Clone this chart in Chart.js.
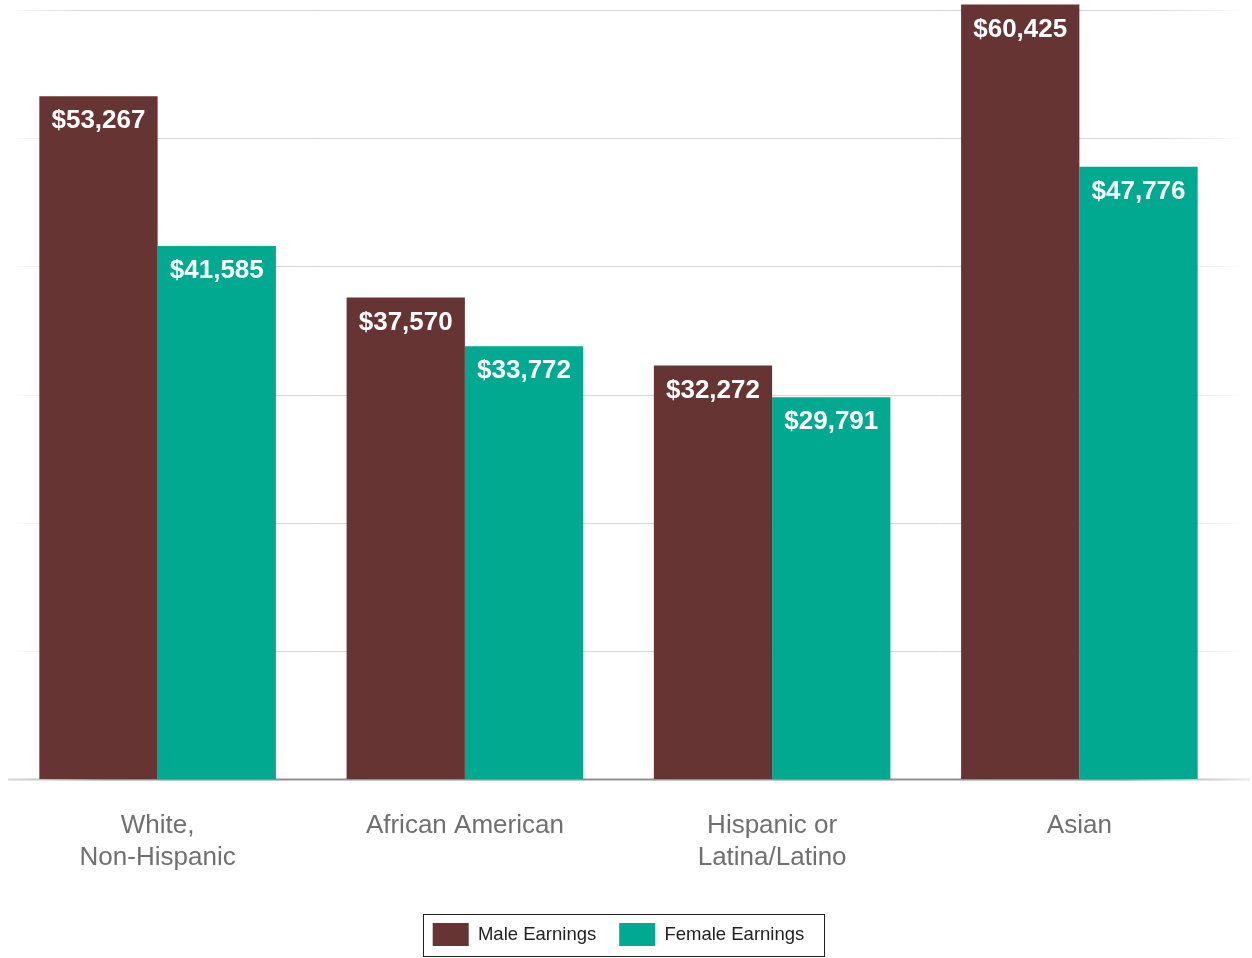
<!DOCTYPE html>
<html>
<head>
<meta charset="utf-8">
<script src="https://cdn.jsdelivr.net/npm/chart.js@4/dist/chart.umd.min.js"></script>
<style>
  html, body { margin: 0; padding: 0; background: #fff; }
  canvas { display: block; }
</style>
</head>
<body>
<canvas id="earnings" width="1252" height="958"></canvas>
<script>
var categories = [["White,", "Non-Hispanic"], "African American", ["Hispanic or", "Latina/Latino"], "Asian"];
var maleEarnings = [53267, 37570, 32272, 60425];
var femaleEarnings = [41585, 33772, 29791, 47776];
var yTicks = [0, 10000, 20000, 30000, 40000, 50000, 60000];

var maroon = "#663433",
	teal = "#00a98f",
	fontFamily = "'Liberation Sans', Arial, sans-serif";

function money(v) {
	return "$" + v.toLocaleString("en-US");
}

// faded horizontal rules + darker baseline, drawn past the plot edges
var gridPlugin = {
	id: "fadedGrid",
	beforeDatasetsDraw: function(chart) {
		var ctx = chart.ctx, y = chart.scales.y;
		var x0 = 8, x1 = 1250;
		ctx.save();
		yTicks.forEach(function(t) {
			var py = Math.round(y.getPixelForValue(t)) + 0.5;
			var g = ctx.createLinearGradient(x0, 0, x1, 0);
			if (t === 0) {
				g.addColorStop(0, "rgba(150,150,150,0.35)");
				g.addColorStop(0.08, "rgba(130,130,130,0.9)");
				g.addColorStop(0.9, "rgba(130,130,130,0.9)");
				g.addColorStop(1, "rgba(150,150,150,0.2)");
				ctx.lineWidth = 2;
			} else {
				g.addColorStop(0, "rgba(215,215,215,0)");
				g.addColorStop(0.06, "rgba(215,215,215,1)");
				g.addColorStop(0.92, "rgba(215,215,215,1)");
				g.addColorStop(1, "rgba(215,215,215,0)");
				ctx.lineWidth = 1;
			}
			ctx.strokeStyle = g;
			ctx.beginPath();
			ctx.moveTo(x0, py);
			ctx.lineTo(x1, py);
			ctx.stroke();
		});
		ctx.restore();
	}
};

// white value labels just inside the top of each bar
var valuePlugin = {
	id: "barValues",
	afterDatasetsDraw: function(chart) {
		var ctx = chart.ctx;
		ctx.save();
		ctx.font = "bold 26px " + fontFamily;
		ctx.fillStyle = "#ffffff";
		ctx.textAlign = "center";
		ctx.textBaseline = "middle";
		chart.data.datasets.forEach(function(ds, i) {
			chart.getDatasetMeta(i).data.forEach(function(bar, j) {
				ctx.fillText(money(ds.data[j]), bar.x, bar.y + 25);
			});
		});
		ctx.restore();
	}
};

// thin black frame round the legend row
var legendFrame = {
	id: "legendFrame",
	afterDraw: function(chart) {
		var lg = chart.legend;
		if (!lg || !lg.legendHitBoxes.length) return;
		var boxes = lg.legendHitBoxes;
		var first = boxes[0], last = boxes[boxes.length - 1];
		var left = first.left - 10, right = last.left + last.width + 19;
		var top = first.top - 9, bottom = first.top + first.height + 10;
		var ctx = chart.ctx;
		ctx.save();
		ctx.strokeStyle = "#222";
		ctx.lineWidth = 1;
		ctx.strokeRect(Math.round(left) + 0.5, Math.round(top) + 0.5, Math.round(right - left), Math.round(bottom - top));
		ctx.restore();
	}
};

new Chart(document.getElementById("earnings").getContext("2d"), {
	type: "bar",
	data: {
		labels: categories,
		datasets: [{
			label: "Male Earnings",
			data: maleEarnings,
			backgroundColor: maroon,
			borderWidth: 0,
			clip: false
		}, {
			label: "Female Earnings",
			data: femaleEarnings,
			backgroundColor: teal,
			borderWidth: 0,
			clip: false
		}]
	},
	options: {
		responsive: false,
		animation: false,
		devicePixelRatio: 1,
		layout: { padding: { top: 10, left: 4, right: 19, bottom: 2 } },
		datasets: {
			bar: { categoryPercentage: 0.77, barPercentage: 1.0 }
		},
		scales: {
			x: {
				grid: { display: false },
				border: { display: false },
				// a little extra room under the labels keeps the baseline at 0 where it belongs
				afterFit: function(scale) { scale.height += 3; },
				ticks: {
					color: "#707070",
					padding: 23,
					font: { family: fontFamily, size: 26, lineHeight: 1.23 }
				}
			},
			y: {
				display: false,
				min: 0,
				max: 60000
			}
		},
		plugins: {
			tooltip: { enabled: false },
			legend: {
				position: "bottom",
				labels: {
					boxWidth: 36,
					boxHeight: 23,
					padding: 23,
					color: "#222",
					font: { family: fontFamily, size: 18.5 }
				}
			}
		}
	},
	plugins: [gridPlugin, valuePlugin, legendFrame]
});
</script>
</body>
</html>
